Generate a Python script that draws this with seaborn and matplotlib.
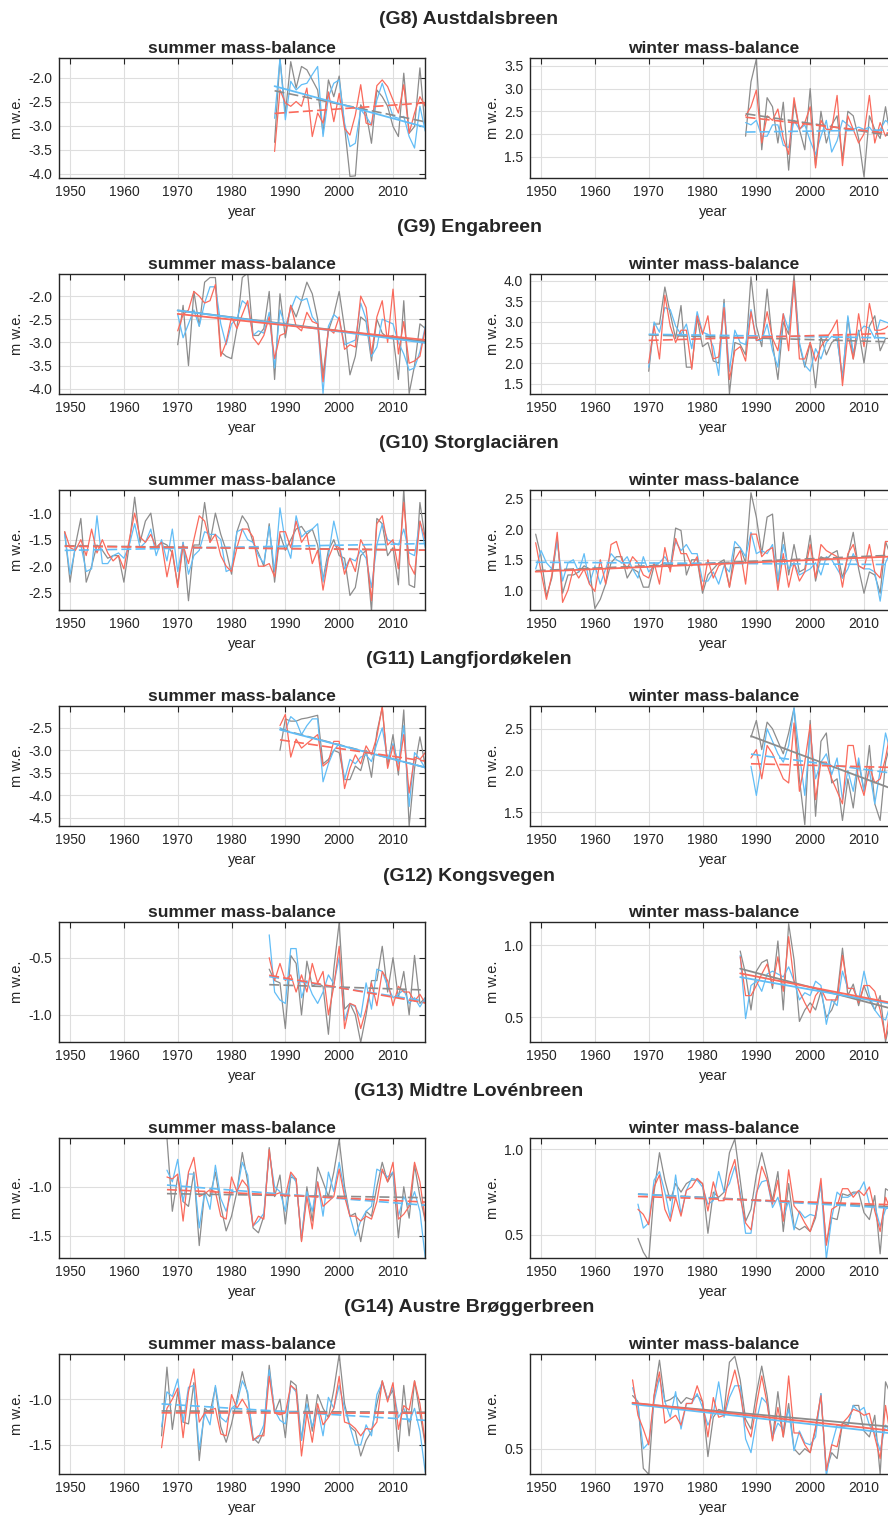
import numpy as np
import seaborn as sns
import matplotlib.pyplot as plt
from matplotlib.ticker import MultipleLocator, FormatStrFormatter

# ---- data (m w.e.), series: gray / red / blue ----
g8_start = 1988
g8_s_gray = [-3.35, -1.6, -2.75, -1.67, -2.22, -1.77, -1.84, -2.05, -2.26, -3.16,
             -2.05, -2.4, -1.97, -3.02, -4.06, -4.05, -2.57, -2.74, -3.37, -2.26,
             -2.4, -2.6, -3.02, -3.23, -1.91, -3.16, -3.02, -1.8, -3.1]
g8_s_red = [-3.54, -2.26, -2.53, -2.6, -2.5, -2.6, -2.22, -3.23, -2.74, -2.95,
            -2.3, -2.92, -2.33, -3.06, -3.2, -2.78, -2.15, -2.95, -2.99, -2.17,
            -2.05, -2.19, -2.47, -2.74, -2.15, -3.16, -2.74, -2.4, -2.6]
g8_s_blue = [-2.85, -1.6, -2.88, -2.08, -2.26, -2.15, -2.12, -1.94, -1.77, -3.23,
             -2.4, -2.12, -2.05, -2.95, -3.44, -3.37, -2.67, -2.81, -2.99, -2.47,
             -2.12, -2.47, -2.81, -2.85, -2.81, -3.23, -3.47, -2.6, -3.12]
g8_w_gray = [1.95, 3.15, 3.65, 1.65, 2.8, 2.6, 1.8, 2.7, 1.2, 2.7,
             2.1, 1.65, 3.0, 1.3, 2.5, 1.8, 2.2, 2.4, 1.45, 2.5,
             2.4, 1.9, 1.05, 2.4, 2.1, 1.9, 2.6, 1.85, 2.4]
g8_w_red = [2.4, 2.6, 2.97, 1.8, 2.4, 2.3, 2.55, 1.9, 1.55, 2.8,
            2.1, 2.25, 2.6, 1.25, 2.3, 2.1, 2.1, 2.85, 1.3, 2.4,
            2.1, 1.8, 2.0, 2.85, 1.8, 2.25, 1.95, 2.1, 1.9]
g8_w_blue = [2.25, 2.2, 2.3, 1.95, 1.95, 2.2, 2.2, 1.75, 1.7, 2.3,
             2.1, 2.2, 1.85, 1.55, 1.95, 2.3, 1.6, 1.85, 2.3, 2.2,
             2.1, 2.15, 2.1, 2.15, 2.0, 2.1, 2.3, 2.2, 2.1]

g9_start = 1970
g9_s_gray = [-3.05, -2.2, -3.5, -1.9, -2.65, -1.7, -1.6, -1.6, -3.2, -3.3,
             -3.35, -2.7, -1.6, -1.5, -2.85, -2.85, -2.7, -1.9, -3.8, -1.95,
             -2.9, -2.2, -2.45, -2.1, -1.7, -1.95, -2.5, -3.7, -2.75, -2.4,
             -1.9, -2.7, -3.7, -3.3, -2.45, -2.55, -3.4, -2.5, -2.8, -2.9,
             -2.85, -3.8, -2.1, -4.1, -3.5, -2.6, -2.7]
g9_s_red = [-2.75, -2.4, -2.3, -1.9, -2.0, -2.15, -2.1, -1.75, -3.3, -3.0,
            -2.45, -2.7, -2.4, -2.1, -2.9, -3.05, -2.85, -2.45, -3.35, -2.85,
            -2.8, -2.2, -2.65, -2.75, -2.35, -2.55, -2.6, -3.85, -2.7, -2.8,
            -2.45, -3.15, -3.05, -3.1, -2.0, -2.25, -3.25, -2.45, -2.1, -3.0,
            -1.85, -3.25, -2.55, -3.45, -3.4, -3.3, -2.7]
g9_s_blue = [-2.4, -2.9, -2.6, -2.3, -2.65, -2.15, -1.8, -1.8, -2.6, -3.05,
             -2.6, -2.5, -2.1, -2.2, -2.85, -2.75, -2.8, -2.35, -3.55, -2.3,
             -2.65, -2.3, -2.0, -2.1, -2.05, -2.45, -2.6, -4.1, -2.65, -2.4,
             -2.5, -3.05, -3.0, -2.95, -2.15, -2.5, -3.3, -3.1, -2.5, -2.55,
             -2.6, -3.0, -3.25, -3.6, -3.55, -3.2, -2.65]
g9_w_gray = [1.8, 2.95, 2.95, 3.85, 3.2, 2.6, 3.4, 1.9, 1.9, 3.1,
             2.4, 2.5, 2.05, 2.0, 3.55, 1.25, 2.5, 2.45, 2.2, 4.1,
             2.9, 2.4, 3.8, 2.5, 1.6, 3.0, 2.7, 4.15, 2.45, 1.9,
             2.5, 1.4, 2.65, 2.2, 2.5, 2.6, 1.65, 3.1, 2.1, 2.8,
             2.0, 2.9, 3.15, 2.3, 2.6, 2.6, 3.0]
g9_w_red = [2.0, 2.9, 2.1, 3.65, 2.9, 2.5, 2.8, 2.8, 1.85, 3.15,
            2.7, 3.15, 2.1, 2.15, 3.35, 1.6, 2.3, 2.4, 2.05, 3.25,
            2.55, 2.6, 3.25, 2.6, 2.3, 3.2, 2.3, 4.0, 2.1, 2.1,
            2.5, 2.05, 2.4, 2.6, 2.8, 3.05, 1.45, 2.7, 2.1, 3.2,
            2.4, 3.45, 2.8, 2.8, 2.85, 2.95, 3.25]
g9_w_blue = [1.9, 3.0, 2.75, 3.35, 3.3, 2.9, 2.7, 2.95, 2.35, 3.25,
             2.75, 2.7, 2.4, 1.7, 3.45, 1.8, 2.8, 2.5, 2.45, 3.3,
             2.55, 2.55, 2.95, 2.3, 1.9, 3.2, 2.8, 3.85, 2.5, 1.95,
             1.8, 2.35, 2.1, 2.5, 2.65, 2.6, 1.6, 3.15, 2.25, 2.75,
             2.9, 2.85, 2.6, 3.05, 3.0, 2.95, 2.85]

g10_start = 1949
g10_s_gray = [-1.35,
              -2.3, -1.6, -1.1, -2.3, -2.0, -1.6, -1.7, -1.85, -1.8, -1.8,
              -2.3, -1.6, -0.7, -1.55, -1.15, -1.0, -1.65, -1.55, -1.6, -1.75,
              -2.35, -1.55, -2.65, -1.6, -1.6, -0.8, -1.55, -1.0, -1.4, -1.7,
              -2.15, -1.35, -1.05, -1.2, -1.55, -1.75, -2.0, -1.2, -2.3, -1.4,
              -1.7, -1.5, -1.3, -1.25, -1.4, -1.3, -1.6, -2.25, -1.7, -1.5,
              -1.8, -1.85, -2.55, -2.4, -1.8, -1.7, -2.85, -1.1, -1.2, -1.8,
              -1.65, -2.35, -0.55, -2.35, -2.4, -0.8, -1.5]
g10_s_red = [-1.35,
             -1.65, -1.7, -1.5, -1.8, -1.3, -1.75, -1.5, -1.75, -1.9, -1.8,
             -2.05, -1.5, -1.0, -1.45, -1.55, -1.4, -1.65, -1.55, -2.2, -1.7,
             -2.4, -1.6, -1.95, -1.5, -1.05, -1.15, -1.55, -1.4, -1.8, -2.0,
             -2.1, -1.65, -1.3, -1.3, -1.45, -2.0, -2.0, -1.95, -2.2, -1.35,
             -1.35, -1.65, -1.15, -1.55, -1.4, -1.95, -1.7, -2.45, -1.85, -1.6,
             -1.65, -2.15, -1.85, -2.1, -1.5, -1.7, -2.65, -1.2, -1.05, -1.6,
             -1.5, -2.05, -0.8, -1.95, -2.15, -1.15, -1.5]
g10_s_blue = [-1.4,
              -2.15, -1.65, -1.6, -2.1, -2.05, -1.05, -1.95, -1.95, -1.8, -1.75,
              -1.85, -1.6, -1.2, -1.65, -1.55, -1.3, -1.8, -1.5, -1.9, -1.3,
              -2.1, -1.55, -2.15, -1.8, -1.7, -1.35, -1.4, -1.4, -1.5, -2.1,
              -2.05, -1.35, -1.3, -1.5, -1.55, -1.8, -1.95, -1.25, -2.1, -0.9,
              -1.55, -1.85, -1.05, -1.45, -1.35, -1.3, -1.2, -2.3, -1.8, -1.15,
              -1.6, -2.05, -1.85, -1.9, -1.7, -1.85, -2.4, -1.6, -1.2, -1.5,
              -1.55, -1.6, -1.3, -1.75, -1.8, -1.15, -1.65]
g10_w_gray = [1.92,
              1.55, 0.9, 1.2, 1.85, 0.95, 1.25, 1.25, 1.3, 1.4, 1.35,
              0.7, 0.85, 1.1, 1.45, 1.55, 1.55, 1.2, 1.35, 1.3, 1.05,
              1.05, 1.4, 1.4, 1.45, 1.35, 2.02, 1.98, 1.25, 1.5, 1.5,
              0.95, 1.25, 1.35, 1.45, 1.5, 1.05, 1.7, 1.7, 1.45, 2.6,
              2.2, 1.6, 2.2, 2.25, 1.1, 1.95, 1.25, 1.75, 1.3, 1.35,
              1.9, 1.15, 1.55, 1.5, 1.6, 1.65, 1.2, 1.55, 1.95, 1.35,
              0.95, 1.3, 1.25, 0.95, 1.8, 1.55, 1.45]
g10_w_red = [1.78,
             1.3, 0.85, 1.25, 1.95, 0.8, 1.0, 1.35, 1.2, 1.35, 1.1,
             0.98, 1.5, 1.1, 1.75, 1.8, 1.5, 1.35, 1.55, 1.45, 1.25,
             1.2, 1.45, 1.1, 1.7, 1.3, 1.85, 1.6, 1.6, 1.4, 1.55,
             1.0, 1.5, 1.2, 1.4, 1.45, 1.05, 1.5, 1.65, 1.1, 1.92,
             1.92, 1.55, 1.65, 1.7, 1.0, 1.6, 1.05, 1.45, 1.15, 1.3,
             1.75, 1.2, 1.75, 1.65, 1.6, 1.55, 1.05, 1.6, 1.75, 1.4,
             1.35, 1.75, 1.3, 1.2, 1.8, 1.8, 1.7]
g10_w_blue = [1.35,
              1.65, 1.45, 1.35, 1.8, 1.15, 1.45, 1.5, 1.3, 1.6, 1.1,
              1.4, 1.1, 1.35, 1.6, 1.5, 1.45, 1.55, 1.35, 1.2, 1.55,
              1.3, 1.4, 1.45, 1.55, 1.4, 1.8, 1.65, 1.75, 1.6, 1.6,
              1.15, 1.15, 1.3, 1.1, 1.4, 1.3, 1.8, 1.7, 1.55, 1.95,
              1.6, 1.65, 1.6, 1.75, 1.15, 1.75, 1.35, 1.45, 1.25, 1.3,
              1.35, 1.45, 1.25, 1.55, 1.5, 1.35, 1.2, 1.35, 1.6, 1.4,
              1.35, 1.35, 1.3, 0.82, 1.45, 1.65, 1.5]

g11_start = 1989
g11_s_gray = [-3.0,
              -2.3, -2.35, -2.35, -2.3, -2.28, -2.25, -2.22, -3.3, -3.2, -3.0,
              -3.05, -3.65, -3.65, -3.35, -3.45, -3.0, -3.6, -2.6, -2.05, -3.35,
              -2.65, -3.55, -2.1, -4.69, -3.4, -2.7, -3.35]
g11_s_red = [-2.45,
             -2.2, -3.15, -2.75, -2.95, -2.85, -2.75, -2.65, -3.35, -3.25, -2.8,
             -2.8, -3.85, -3.4, -3.1, -3.3, -2.9, -3.1, -2.7, -2.02, -3.4,
             -2.9, -3.45, -2.65, -3.95, -3.15, -3.2, -3.05]
g11_s_blue = [-2.5,
              -2.55, -2.25, -2.35, -2.65, -2.45, -2.3, -2.3, -3.7, -3.3, -3.0,
              -2.85, -3.65, -3.2, -3.3, -3.15, -3.1, -3.25, -2.85, -2.5, -3.2,
              -2.85, -3.3, -2.45, -4.25, -3.05, -3.2, -3.4]
g11_w_gray = [2.4,
              2.6, 2.25, 2.58, 2.5, 2.35, 2.2, 2.45, 2.75, 1.9, 1.35,
              2.6, 1.45, 2.35, 2.45, 1.85, 1.9, 1.4, 1.9, 1.55, 2.1,
              1.75, 2.3, 1.6, 1.4, 2.1, 2.35, 2.05]
g11_w_red = [2.15,
             2.25, 1.9, 2.3, 2.2, 2.05, 1.9, 1.85, 2.57, 1.75, 2.1,
             2.55, 1.65, 2.1, 2.1, 1.9, 1.75, 1.6, 2.3, 2.3, 1.9,
             1.7, 2.05, 1.85, 1.9, 2.15, 2.5, 2.3]
g11_w_blue = [2.05,
              1.7, 2.1, 2.5, 2.35, 2.2, 2.1, 2.3, 2.75, 2.2, 1.7,
              2.45, 1.9, 2.1, 2.2, 1.95, 2.15, 1.65, 2.0, 1.75, 2.15,
              1.75, 2.0, 1.6, 2.0, 2.45, 2.2, 1.95]

g12_start = 1987
g12_s_gray = [-0.6, -0.7, -0.72,
              -1.12, -0.48, -0.55, -1.0, -0.53, -0.75, -0.72, -0.75, -1.17, -0.6,
              -0.19, -0.95, -0.9, -1.0, -1.24, -1.0, -0.7, -0.7, -0.4, -0.8,
              -0.5, -0.85, -0.62, -1.0, -0.48, -0.9, -0.85]
g12_s_red = [-0.5, -0.7, -0.55,
             -0.7, -0.65, -0.8, -0.65, -0.8, -0.55, -0.72, -0.62, -1.0, -0.75,
             -0.4, -1.12, -0.9, -0.92, -1.12, -0.95, -0.72, -0.92, -0.62, -0.7,
             -0.92, -0.75, -0.8, -0.8, -0.88, -0.82, -0.9]
g12_s_blue = [-0.3, -0.8, -0.87,
              -0.9, -0.42, -0.42, -0.85, -0.7, -0.82, -0.9, -0.8, -0.65, -0.73,
              -0.5, -1.05, -0.9, -0.93, -1.02, -0.72, -0.95, -0.6, -0.62, -0.75,
              -0.85, -0.82, -0.78, -0.9, -0.85, -0.93, -0.85]
g12_w_gray = [0.96, 0.8, 0.55,
              0.82, 0.88, 0.9, 0.7, 1.03, 0.55, 1.15, 0.9, 0.47, 0.55,
              0.6, 0.55, 0.68, 0.5, 0.55, 0.65, 0.98, 0.65, 0.73, 0.58,
              0.72, 0.62, 0.55, 0.65, 0.33, 0.5, 0.72]
g12_w_red = [0.92, 0.65, 0.65,
             0.72, 0.8, 0.87, 0.72, 0.92, 0.68, 1.06, 0.75, 0.68, 0.6,
             0.53, 0.65, 0.7, 0.62, 0.62, 0.62, 0.93, 0.7, 0.7, 0.6,
             0.72, 0.72, 0.68, 0.55, 0.35, 0.6, 0.65]
g12_w_blue = [0.93, 0.49, 0.72,
              0.75, 0.68, 0.8, 0.82, 0.8, 0.78, 0.85, 0.75, 0.62, 0.67,
              0.65, 0.75, 0.72, 0.45, 0.62, 0.58, 0.82, 0.7, 0.7, 0.62,
              0.82, 0.65, 0.55, 0.5, 0.48, 0.6, 0.6]

g13_start = 1968
g13_s_gray = [-0.5, -1.25,
              -0.9, -1.15, -1.2, -0.85, -1.6, -1.05, -1.1, -0.85, -1.2, -1.45,
              -1.3, -1.05, -0.65, -0.95, -1.42, -1.47, -1.3, -0.6, -1.1, -0.88,
              -1.38, -0.9, -0.92, -1.55, -1.0, -1.35, -0.8, -0.95, -1.1, -0.85,
              -0.52, -1.0, -1.3, -1.27, -1.56, -1.25, -1.3, -1.0, -0.75, -0.95,
              -0.85, -1.52, -1.0, -1.32, -0.78, -1.1, -1.35]
g13_s_red = [-0.9, -0.92,
             -0.87, -1.35, -0.85, -0.7, -1.1, -1.07, -1.03, -1.05, -1.3, -1.33,
             -0.9, -1.05, -0.93, -1.0, -1.4, -1.3, -1.33, -0.62, -1.08, -1.06,
             -1.1, -0.85, -0.92, -1.56, -1.1, -1.43, -0.95, -1.2, -1.15, -1.1,
             -0.82, -1.1, -1.3, -1.3, -1.35, -1.3, -1.33, -1.15, -0.82, -0.95,
             -0.75, -1.33, -1.28, -1.2, -0.75, -0.95, -1.35]
g13_s_blue = [-0.83, -0.95,
              -0.72, -1.15, -0.87, -0.87, -1.42, -1.05, -1.23, -0.78, -1.12, -1.25,
              -1.05, -1.05, -0.75, -0.88, -1.4, -1.35, -1.27, -0.65, -1.0, -1.05,
              -1.25, -0.87, -0.95, -1.52, -1.05, -1.25, -0.95, -1.3, -0.85, -1.05,
              -0.75, -1.05, -1.3, -1.5, -1.35, -1.25, -1.2, -0.82, -0.85, -0.9,
              -0.85, -1.3, -1.1, -1.2, -1.05, -1.25, -1.73]
g13_w_gray = [0.48, 0.4,
              0.35, 0.75, 0.98, 0.82, 0.7, 0.8, 0.75, 0.8, 0.82, 0.82,
              0.8, 0.51, 0.75, 0.72, 0.75, 0.98, 1.06, 0.82, 0.58, 0.65,
              0.85, 0.98, 0.85, 0.7, 0.87, 0.52, 0.8, 0.55, 0.53, 0.55,
              0.52, 0.6, 0.8, 0.45, 0.6, 0.59, 0.74, 0.73, 0.75, 0.75,
              0.63, 0.59, 0.73, 0.39, 0.77, 0.75, 0.66]
g13_w_red = [0.65, 0.62,
             0.56, 0.78, 0.85, 0.65, 0.58, 0.72, 0.61, 0.76, 0.78, 0.83,
             0.8, 0.64, 0.81, 0.7, 0.7, 0.85, 0.94, 0.72, 0.57, 0.53,
             0.73, 0.9, 0.82, 0.68, 0.82, 0.58, 0.88, 0.67, 0.63, 0.57,
             0.52, 0.62, 0.83, 0.44, 0.65, 0.67, 0.77, 0.77, 0.72, 0.76,
             0.73, 0.78, 0.64, 0.52, 0.72, 0.64, 0.6]
g13_w_blue = [0.68, 0.54,
              0.57, 0.82, 0.87, 0.75, 0.6, 0.85, 0.62, 0.76, 0.83, 0.82,
              0.78, 0.68, 0.7, 0.87, 0.75, 0.8, 0.9, 0.75, 0.51, 0.51,
              0.75, 0.81, 0.82, 0.66, 0.72, 0.6, 0.7, 0.53, 0.64, 0.6,
              0.62, 0.61, 0.8, 0.36, 0.6, 0.75, 0.72, 0.72, 0.74, 0.75,
              0.81, 0.68, 0.67, 0.55, 0.65, 0.67, 0.66]

g14_start = 1967
g14_s_gray = [-1.4, -0.65, -1.33,
              -0.92, -1.25, -1.27, -0.82, -1.67, -1.1, -1.15, -0.87, -1.3, -1.47,
              -1.27, -1.0, -0.7, -0.95, -1.42, -1.48, -1.35, -0.63, -1.15, -1.0,
              -1.42, -0.8, -0.85, -1.45, -0.95, -1.35, -0.95, -1.1, -1.2, -0.9,
              -0.51, -1.05, -1.3, -1.35, -1.62, -1.45, -1.35, -1.05, -0.8, -1.0,
              -0.9, -1.57, -0.85, -1.4, -0.8, -1.15, -1.5]
g14_s_red = [-1.53, -1.1, -1.0,
             -0.88, -1.42, -0.92, -0.67, -1.25, -1.15, -1.12, -1.1, -1.38, -1.4,
             -0.95, -1.1, -1.0, -1.1, -1.45, -1.4, -1.4, -0.75, -1.15, -1.17,
             -1.15, -0.85, -0.9, -1.62, -1.15, -1.47, -1.05, -1.28, -1.2, -1.1,
             -0.75, -1.25, -1.27, -1.32, -1.4, -1.32, -1.33, -1.25, -0.8, -1.03,
             -0.82, -1.33, -1.07, -1.12, -0.8, -1.05, -1.48]
g14_s_blue = [-1.3, -0.92, -0.97,
              -0.78, -1.25, -0.87, -0.85, -1.55, -1.15, -1.28, -0.85, -1.2, -1.25,
              -1.1, -1.05, -0.8, -0.92, -1.45, -1.42, -1.28, -0.68, -1.12, -1.23,
              -1.27, -0.85, -0.92, -1.45, -1.05, -1.3, -1.1, -1.4, -0.98, -1.1,
              -0.85, -1.1, -1.3, -1.5, -1.5, -1.28, -1.4, -0.95, -0.82, -1.0,
              -0.87, -1.2, -1.1, -1.25, -1.1, -1.35, -1.8]
g14_w_gray = [0.77, 0.74, 0.40,
              0.37, 0.77, 0.95, 0.74, 0.75, 0.77, 0.73, 0.76, 0.75, 0.77,
              0.74, 0.46, 0.66, 0.70, 0.69, 0.94, 0.97, 0.85, 0.65, 0.60,
              0.78, 0.92, 0.77, 0.55, 0.79, 0.56, 0.73, 0.50, 0.47, 0.50,
              0.48, 0.60, 0.78, 0.39, 0.48, 0.45, 0.63, 0.62, 0.72, 0.72,
              0.59, 0.56, 0.67, 0.37, 0.84, 0.77, 0.75]
g14_w_red = [0.85, 0.67, 0.60,
             0.52, 0.77, 0.89, 0.63, 0.65, 0.67, 0.62, 0.73, 0.73, 0.82,
             0.74, 0.56, 0.76, 0.66, 0.67, 0.80, 0.90, 0.78, 0.62, 0.56,
             0.72, 0.87, 0.73, 0.54, 0.71, 0.56, 0.87, 0.58, 0.58, 0.52,
             0.48, 0.61, 0.77, 0.39, 0.52, 0.51, 0.63, 0.66, 0.70, 0.69,
             0.67, 0.68, 0.56, 0.45, 0.72, 0.55, 0.60]
g14_w_blue = [0.81, 0.72, 0.50,
              0.53, 0.74, 0.86, 0.74, 0.66, 0.79, 0.60, 0.73, 0.73, 0.78,
              0.71, 0.62, 0.68, 0.84, 0.66, 0.76, 0.82, 0.82, 0.55, 0.48,
              0.64, 0.76, 0.73, 0.56, 0.63, 0.60, 0.70, 0.49, 0.59, 0.53,
              0.52, 0.56, 0.78, 0.36, 0.52, 0.62, 0.61, 0.62, 0.72, 0.69,
              0.71, 0.62, 0.58, 0.49, 0.62, 0.58, 0.60]

glacier_names = ["(G8) Austdalsbreen", "(G9) Engabreen", "(G10) Storglaciären",
                 "(G11) Langfjordøkelen", "(G12) Kongsvegen",
                 "(G13) Midtre Lovénbreen", "(G14) Austre Brøggerbreen"]
start_years = [g8_start, g9_start, g10_start, g11_start, g12_start, g13_start, g14_start]
summer = [(g8_s_gray, g8_s_red, g8_s_blue), (g9_s_gray, g9_s_red, g9_s_blue),
          (g10_s_gray, g10_s_red, g10_s_blue), (g11_s_gray, g11_s_red, g11_s_blue),
          (g12_s_gray, g12_s_red, g12_s_blue), (g13_s_gray, g13_s_red, g13_s_blue),
          (g14_s_gray, g14_s_red, g14_s_blue)]
winter = [(g8_w_gray, g8_w_red, g8_w_blue), (g9_w_gray, g9_w_red, g9_w_blue),
          (g10_w_gray, g10_w_red, g10_w_blue), (g11_w_gray, g11_w_red, g11_w_blue),
          (g12_w_gray, g12_w_red, g12_w_blue), (g13_w_gray, g13_w_red, g13_w_blue),
          (g14_w_gray, g14_w_red, g14_w_blue)]

# ---- style ----
sns.set_style("white")
plt.rcParams['font.family'] = ['Liberation Sans', 'DejaVu Sans']

colors = ["#8c8c8c", "#fa6a5c", "#62bdf6"]
# trend line style per panel, order gray / red / blue
summer_ls = [("--", "--", "-"), ("-", "-", "-"), ("--", "--", "--"), ("--", "--", "-"),
             ("--", "--", "--"), ("--", "--", "--"), ("--", "--", "--")]
winter_ls = [("--", "--", "--"), ("--", "--", "--"), ("--", "-", "--"), ("-", "--", "--"),
             ("-", "-", "-"), ("--", "--", "--"), ("-", "-", "-")]
summer_ylim = [(-4.10, -1.60), (-4.12, -1.53), (-2.83, -0.57), (-4.69, -2.02),
               (-1.24, -0.19), (-1.73, -0.505), (-1.82, -0.51)]
winter_ylim = [(1.02, 3.67), (1.24, 4.16), (0.67, 2.64), (1.33, 2.77),
               (0.325, 1.16), (0.364, 1.064), (0.37, 0.98)]

W, H = 888, 1516
fig = plt.figure(figsize=(W / 100, H / 100), dpi=100)


def panel(left_px, top_px, series, start, styles, ylim, title):
    ax = fig.add_axes([left_px / W, 1 - (top_px + 120) / H, 366 / W, 120 / H])
    yrs = np.arange(start, 2017)
    for i in (0, 2, 1):
        sns.lineplot(x=yrs, y=np.array(series[i]), ax=ax, color=colors[i], lw=0.9)
    for i in (0, 2, 1):
        sns.regplot(x=yrs, y=np.array(series[i]), ax=ax, scatter=False, ci=None,
                    color=colors[i],
                    line_kws=dict(lw=1.2, ls=styles[i], dashes=(6, 2.5)) if styles[i] == "--"
                    else dict(lw=1.3, ls="-"))
    ax.set_xlim(1948, 2016)
    ax.set_ylim(*ylim)
    ax.xaxis.set_major_locator(MultipleLocator(10))
    ax.yaxis.set_major_locator(MultipleLocator(0.5))
    ax.yaxis.set_major_formatter(FormatStrFormatter('%.1f'))
    ax.grid(True, color="#dedede", lw=0.8)
    ax.set_axisbelow(True)
    ax.tick_params(direction="in", top=True, right=True, length=4, width=0.8,
                   labelsize=10, colors="#262626", pad=5)
    for s in ax.spines.values():
        s.set_color("#262626")
        s.set_linewidth(1.0)
    ax.set_title(title, fontsize=12.5, fontweight="bold", pad=4)
    ax.set_xlabel("year", fontsize=10.5, color="#262626")
    ax.set_ylabel("m w.e.", fontsize=10.5, color="#262626", labelpad=3)
    return ax


title_y = [20, 228, 444, 660, 876, 1092, 1308]
for k in range(7):
    top = 58.3 + 216 * k
    panel(59.3, top, summer[k], start_years[k], summer_ls[k], summer_ylim[k],
          "summer mass-balance")
    panel(530.3, top, winter[k], start_years[k], winter_ls[k], winter_ylim[k],
          "winter mass-balance")
    fig.text(469 / W, 1 - title_y[k] / H, glacier_names[k], ha="center", va="center",
             fontsize=14, fontweight="bold")

fig.savefig("out.png", dpi=100)
